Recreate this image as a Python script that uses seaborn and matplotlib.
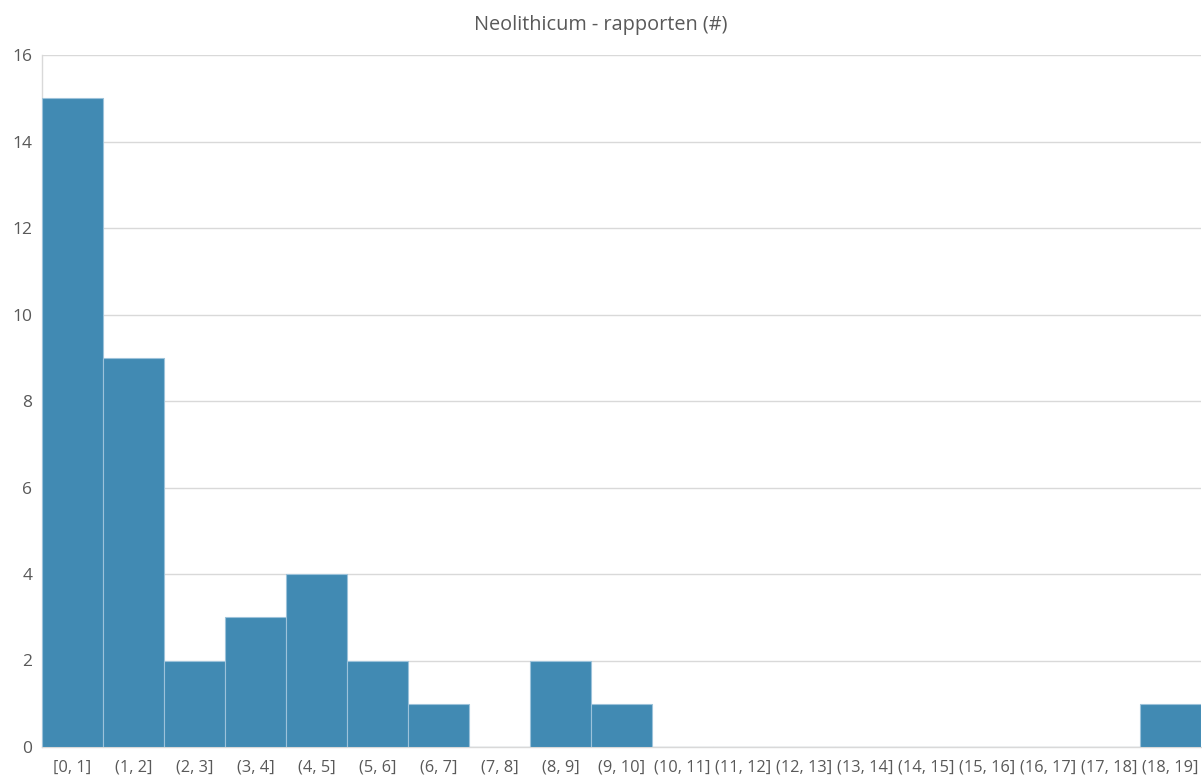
import matplotlib
matplotlib.use("Agg")
import matplotlib.pyplot as plt
import seaborn as sns
import pandas as pd

# Bins and counts of the histogram
bins = ["[0, 1]", "(1, 2]", "(2, 3]", "(3, 4]", "(4, 5]", "(5, 6]", "(6, 7]",
        "(7, 8]", "(8, 9]", "(9, 10]", "(10, 11]", "(11, 12]", "(12, 13]",
        "(13, 14]", "(14, 15]", "(15, 16]", "(16, 17]", "(17, 18]", "(18, 19]"]
counts = [15, 9, 2, 3, 4, 2, 1, 0, 2, 1, 0, 0, 0, 0, 0, 0, 0, 0, 1]
y_ticks = [0, 2, 4, 6, 8, 10, 12, 14, 16]
title = "Neolithicum - rapporten (#)"

sns.set_theme(style="white")
plt.rcParams["font.family"] = ["Open Sans", "DejaVu Sans"]

df = pd.DataFrame({"bin": bins, "count": counts})

fig = plt.figure(figsize=(12.02, 7.8), dpi=100)
ax = fig.add_axes([42 / 1202, 1 - 747 / 780, 1159 / 1202, (747 - 55) / 780])

sns.barplot(data=df, x="bin", y="count", ax=ax, color="#418AB3",
            saturation=1, width=1.0, edgecolor="#9CC2DA", linewidth=0.8,
            zorder=3)

ax.set_xlim(-0.5, len(bins) - 0.5)
ax.set_ylim(0, 16)
ax.set_yticks(y_ticks)
ax.yaxis.grid(True, color="#D9D9D9", linewidth=1, zorder=0)
ax.set_axisbelow(True)

for side in ["top", "right"]:
    ax.spines[side].set_visible(False)
ax.spines["left"].set_color("#D9D9D9")
ax.spines["bottom"].set_color("#D9D9D9")
ax.spines["left"].set_linewidth(1)
ax.spines["bottom"].set_linewidth(1)

ax.tick_params(axis="x", length=0, labelsize=11.8, colors="#595959", pad=9)
ax.tick_params(axis="y", length=0, labelsize=12.5, colors="#595959", pad=7)
ax.set_xlabel("")
ax.set_ylabel("")

fig.text(0.5, 1 - 25 / 780, title, ha="center", va="center",
         fontsize=14.3, color="#595959")

fig.savefig("out.png", dpi=100, facecolor="white")
